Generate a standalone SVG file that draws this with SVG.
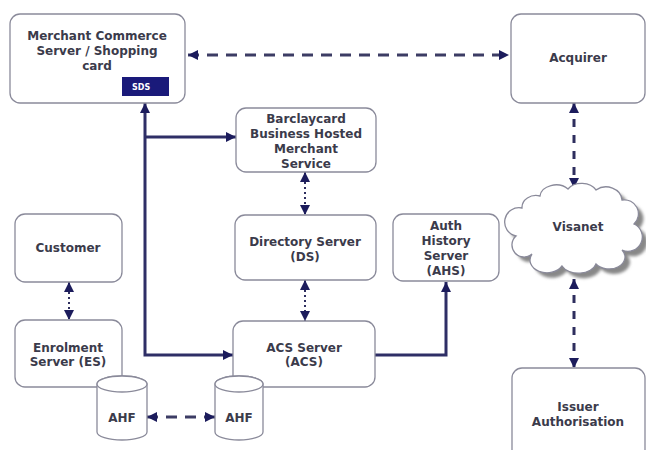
<svg xmlns="http://www.w3.org/2000/svg" width="646" height="450" viewBox="0 0 646 450">
<style>
.box{fill:#fff;stroke:#8a8a9a;stroke-width:1.3}
.t{font-family:"DejaVu Sans",Verdana,sans-serif;font-weight:bold;font-size:12px;fill:#3b3b4b;text-anchor:middle}
.solid{fill:none;stroke:#2e2e66;stroke-width:3}
.dash{fill:none;stroke:#3c3c64;stroke-width:3;stroke-dasharray:11 8}
.vdash{fill:none;stroke:#2e2e5e;stroke-width:3;stroke-dasharray:8 8}
.dot{fill:none;stroke:#2e2e5e;stroke-width:2;stroke-dasharray:2 3}
.both{marker-start:url(#ah);marker-end:url(#ah)}
.end{marker-end:url(#ah)}
</style>
<defs>
<marker id="ah" viewBox="0 0 10 10" refX="10" refY="5" markerWidth="11" markerHeight="10" markerUnits="userSpaceOnUse" orient="auto-start-reverse">
<path d="M0,0 L10,5 L0,10 z" fill="#1c1c5c"/>
</marker>
<filter id="blur" x="-10%" y="-10%" width="120%" height="120%"><feGaussianBlur stdDeviation="1.5"/></filter>
<path id="cloudp" d="M522,208 A14,12 0 0 1 540,196 A16,12 0 0 1 568,189 A16,12 0 0 1 596,190 A16,14 0 0 1 622,200 A14,14 0 0 1 634,224 A14,14 0 0 1 622,250 A16,12 0 0 1 596,264 A18,12 0 0 1 562,266 A16,12 0 0 1 532,254 A12,12 0 0 1 516,236 A12,12 0 0 1 522,208 Z"/>
</defs>
<rect width="646" height="450" fill="#fff"/>

<g id="connectors">
<line class="dash both" x1="188" y1="55" x2="509" y2="55"/>
<polyline class="solid" points="145,103 145,355 233,355" style="marker-start:url(#ah);marker-end:url(#ah)"/>
<line class="solid end" x1="145" y1="137" x2="236" y2="137"/>
<line class="dot both" x1="305" y1="172" x2="305" y2="215"/>
<line class="dot both" x1="305" y1="280" x2="305" y2="321"/>
<line class="dot both" x1="69" y1="282" x2="69" y2="320"/>
<polyline class="solid end" points="375,355 446,355 446,282"/>
<line class="vdash both" x1="574" y1="103" x2="574" y2="188"/>
<line class="vdash both" x1="574" y1="279" x2="574" y2="368"/>
<line class="dash both" x1="147" y1="417" x2="215" y2="417"/>
</g>

<g id="merchant">
<rect class="box" x="10" y="14" width="175" height="89" rx="10"/>
<text class="t" x="97" y="40">Merchant Commerce</text>
<text class="t" x="97" y="55">Server / Shopping</text>
<text class="t" x="97" y="70">card</text>
<rect x="122" y="77" width="47" height="19" fill="#1a1a7a"/>
<text x="132" y="90" font-family="DejaVu Sans,sans-serif" font-size="8" font-weight="bold" fill="#fff">SDS</text>
</g>

<g id="acquirer">
<rect class="box" x="511" y="14" width="134" height="89" rx="10"/>
<text class="t" x="578" y="62">Acquirer</text>
</g>

<g id="barclaycard">
<rect class="box" x="236" y="108" width="140" height="64" rx="10"/>
<text class="t" x="306" y="123">Barclaycard</text>
<text class="t" x="306" y="138">Business Hosted</text>
<text class="t" x="306" y="153">Merchant</text>
<text class="t" x="306" y="168">Service</text>
</g>

<g id="directory">
<rect class="box" x="235" y="215" width="141" height="65" rx="10"/>
<text class="t" x="305" y="246">Directory Server</text>
<text class="t" x="305" y="261">(DS)</text>
</g>

<g id="ahs">
<rect class="box" x="393" y="214" width="106" height="67" rx="10"/>
<text class="t" x="446" y="230">Auth</text>
<text class="t" x="446" y="245">History</text>
<text class="t" x="446" y="260">Server</text>
<text class="t" x="446" y="275">(AHS)</text>
</g>

<g id="customer">
<rect class="box" x="15" y="214" width="107" height="68" rx="10"/>
<text class="t" x="68" y="252">Customer</text>
</g>

<g id="enrolment">
<rect class="box" x="15" y="320" width="107" height="67" rx="10"/>
<text class="t" x="68" y="352">Enrolment</text>
<text class="t" x="68" y="366">Server (ES)</text>
</g>

<g id="acs">
<rect class="box" x="233" y="321" width="142" height="66" rx="10"/>
<text class="t" x="304" y="352">ACS Server</text>
<text class="t" x="304" y="366">(ACS)</text>
</g>

<g id="ahf-left">
<path class="box" d="M97,384 L97,432 A25,8 0 0 0 147,432 L147,384 A25,8 0 0 0 97,384 Z"/>
<ellipse class="box" cx="122" cy="384" rx="25" ry="8"/>
<text class="t" x="122" y="422">AHF</text>
</g>

<g id="ahf-right">
<path class="box" d="M215,384 L215,432 A24,8 0 0 0 263,432 L263,384 A24,8 0 0 0 215,384 Z"/>
<ellipse class="box" cx="239" cy="384" rx="24" ry="8"/>
<text class="t" x="239" y="422">AHF</text>
</g>

<g id="visanet">
<use href="#cloudp" transform="translate(5,5)" fill="#888" filter="url(#blur)"/>
<use href="#cloudp" fill="#fff" stroke="#8a8a9a" stroke-width="1.3"/>
<text class="t" x="578" y="231">Visanet</text>
</g>

<g id="issuer">
<rect class="box" x="512" y="368" width="133" height="100" rx="10"/>
<text class="t" x="578" y="411">Issuer</text>
<text class="t" x="578" y="426">Authorisation</text>
</g>
</svg>
